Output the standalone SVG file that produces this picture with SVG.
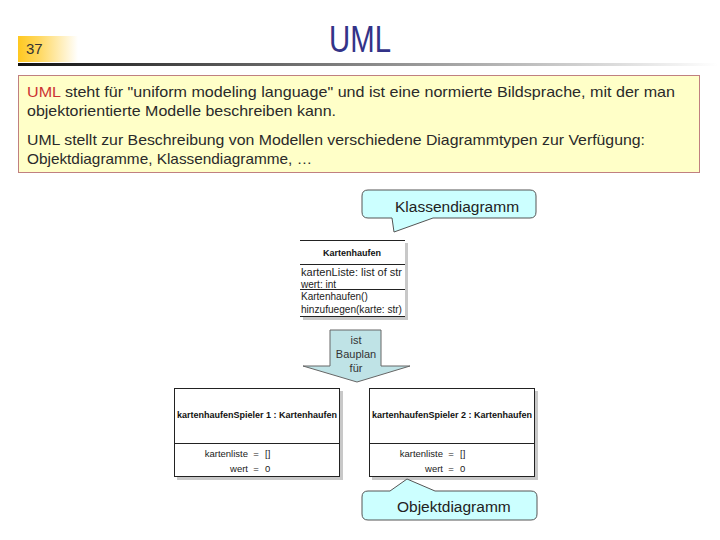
<svg xmlns="http://www.w3.org/2000/svg" width="720" height="540" viewBox="0 0 720 540">
<defs>
<linearGradient id="gy" x1="0" y1="0" x2="1" y2="0"><stop offset="0" stop-color="#ffc820"/><stop offset="0.35" stop-color="#ffd860"/><stop offset="1" stop-color="#ffffff"/></linearGradient>
<linearGradient id="gl" x1="0" y1="0" x2="1" y2="0"><stop offset="0" stop-color="#111"/><stop offset="0.5" stop-color="#888"/><stop offset="1" stop-color="#fff"/></linearGradient>
</defs>
<style>
text{font-family:"Liberation Sans",Arial,sans-serif}
.body{font-size:15px;fill:#2a2a2a}
.call{fill:#ccffff;stroke:#555;stroke-width:1}
.ct{font-size:15.5px;fill:#222}
.uml{fill:#fff;stroke:#222;stroke-width:1}
.sh{fill:#c8c8c8}
.sm{font-size:9.5px;fill:#222}
.cl{font-size:10px;fill:#222}
.bd{font-size:9px;font-weight:bold;fill:#111}
</style>
<g id="header">
<rect x="18" y="36" width="60" height="26" fill="url(#gy)"/>
<text x="26" y="54" font-size="15" fill="#333">37</text>
<rect x="18" y="63" width="700" height="3" fill="url(#gl)"/>
<text x="360" y="52" font-size="36" fill="#333388" text-anchor="middle" textLength="62" lengthAdjust="spacingAndGlyphs">UML</text>
</g>
<g id="infobox">
<rect x="18.5" y="75.5" width="681" height="97" fill="#ffffc8" stroke="#c08080"/>
<text class="body" x="27" y="97" textLength="648" lengthAdjust="spacingAndGlyphs"><tspan fill="#cc3333">UML</tspan> steht für "uniform modeling language" und ist eine normierte Bildsprache, mit der man</text>
<text class="body" x="27" y="116" textLength="309" lengthAdjust="spacingAndGlyphs">objektorientierte Modelle beschreiben kann.</text>
<text class="body" x="27" y="145" textLength="618" lengthAdjust="spacingAndGlyphs">UML stellt zur Beschreibung von Modellen verschiedene Diagrammtypen zur Verfügung:</text>
<text class="body" x="27" y="164" textLength="285" lengthAdjust="spacingAndGlyphs">Objektdiagramme, Klassendiagramme, …</text>
</g>
<g id="klassendiagramm-callout">
<path class="call" d="M368,190 H530 Q536,190 536,196 V212 Q536,218 530,218 H433 L394,232 L392,218 H368 Q362,218 362,212 V196 Q362,190 368,190 Z"/>
<text class="ct" x="395" y="212">Klassendiagramm</text>
</g>
<g id="class-kartenhaufen">
<rect class="sh" x="405" y="243" width="3" height="77"/>
<rect class="sh" x="303" y="317" width="105" height="3"/>
<rect x="300" y="240" width="105" height="77" fill="#fff"/>
<path d="M300,240.5 H405 M300,264.5 H405 M300,289.5 H405 M300,316.5 H405" stroke="#222" stroke-width="1" fill="none"/>
<text class="bd" x="352" y="256" text-anchor="middle">Kartenhaufen</text>
<text class="cl" x="301" y="276" textLength="101" lengthAdjust="spacingAndGlyphs">kartenListe: list of str</text>
<text class="cl" x="301" y="288">wert: int</text>
<text class="cl" x="301" y="300">Kartenhaufen()</text>
<text class="cl" x="301" y="313" textLength="101" lengthAdjust="spacingAndGlyphs">hinzufuegen(karte: str)</text>
</g>
<g id="arrow-bauplan">
<path d="M330,330 H381 V366 H410 L357,382 L303,366 H330 Z" fill="#bfe3e6" stroke="#666" stroke-width="1"/>
<text x="356" y="344" font-size="11" fill="#333" text-anchor="middle">ist</text>
<text x="356" y="358" font-size="11" fill="#333" text-anchor="middle">Bauplan</text>
<text x="356" y="372" font-size="11" fill="#333" text-anchor="middle">für</text>
</g>
<g id="object-spieler1">
<rect class="sh" x="177" y="391" width="166" height="89"/>
<rect class="uml" x="174.5" y="388.5" width="165" height="88"/>
<line x1="174.5" y1="443.5" x2="339.5" y2="443.5" stroke="#222"/>
<text class="bd" x="257" y="418" text-anchor="middle">kartenhaufenSpieler 1 : Kartenhaufen</text>
<text class="sm" x="248" y="457" text-anchor="end">kartenliste</text>
<text class="sm" x="256" y="457" text-anchor="middle">=</text>
<text class="sm" x="265" y="457">[]</text>
<text class="sm" x="248" y="472" text-anchor="end">wert</text>
<text class="sm" x="256" y="472" text-anchor="middle">=</text>
<text class="sm" x="265" y="472">0</text>
</g>
<g id="object-spieler2">
<rect class="sh" x="372" y="391" width="166" height="89"/>
<rect class="uml" x="369.5" y="388.5" width="165" height="88"/>
<line x1="369.5" y1="443.5" x2="534.5" y2="443.5" stroke="#222"/>
<text class="bd" x="452" y="418" text-anchor="middle">kartenhaufenSpieler 2 : Kartenhaufen</text>
<text class="sm" x="443" y="457" text-anchor="end">kartenliste</text>
<text class="sm" x="451" y="457" text-anchor="middle">=</text>
<text class="sm" x="460" y="457">[]</text>
<text class="sm" x="443" y="472" text-anchor="end">wert</text>
<text class="sm" x="451" y="472" text-anchor="middle">=</text>
<text class="sm" x="460" y="472">0</text>
</g>
<g id="objektdiagramm-callout">
<path class="call" d="M368,491 H390 L407,479 L435,491 H531 Q537,491 537,497 V514 Q537,520 531,520 H368 Q362,520 362,514 V497 Q362,491 368,491 Z"/>
<text class="ct" x="397" y="512">Objektdiagramm</text>
</g>
</svg>
